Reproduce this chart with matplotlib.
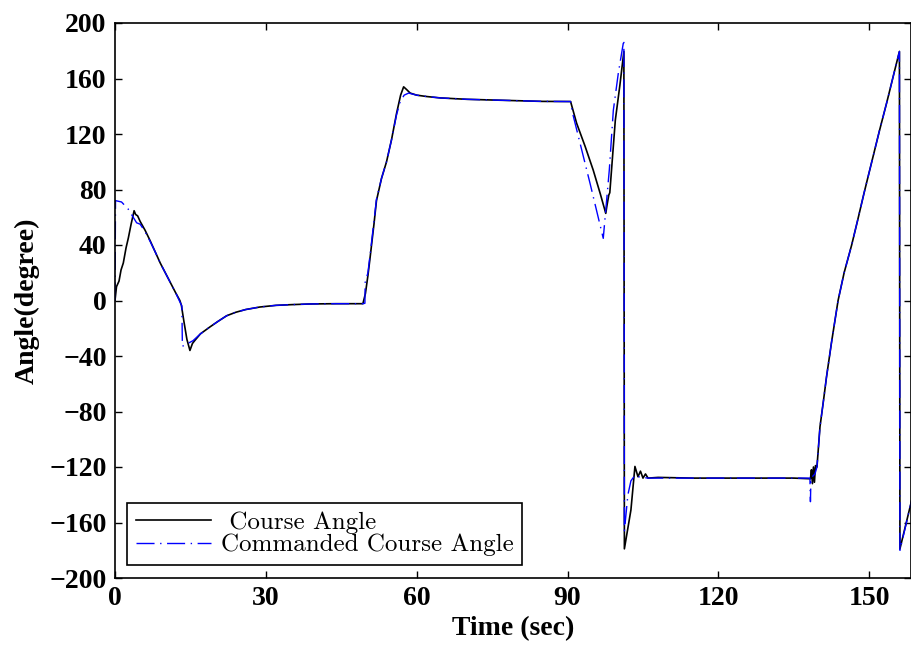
import matplotlib
matplotlib.use("Agg")
import matplotlib.pyplot as plt

# course angle (black)
course_t = [0, 0.3, 0.8, 1.2, 1.65, 2.2, 2.65, 3.2, 3.8, 4.1, 4.5, 5, 6, 7, 8, 9, 10, 11, 12,
            12.9, 13.2, 13.7, 14.3, 14.9, 15.4, 15.9, 17, 18.9, 20.5, 22.2, 24, 26, 28.8, 32,
            35, 38.8, 44, 49.3, 49.8, 50.3, 50.7, 51.5, 52, 53, 54, 55, 56, 56.8, 57.4, 58,
            58.7, 60, 62, 64.7, 70, 75, 80, 85, 90.6, 91.8, 93.5, 95.1, 96.5, 97.6, 97.8,
            98.2, 98.4, 99.5, 100.4, 101.2, 101.3, 102.6, 103.4, 104, 104.5, 105, 105.5, 106,
            108, 115, 125, 135, 138.3, 138.5, 138.7, 138.9, 139.1, 139.3, 139.6, 140.2, 140.9,
            141.5, 142.5, 143.8, 145, 146.5, 147.7, 149, 150.5, 152, 153.5, 155, 156.0,
            156.1, 158.5]
course_deg = [0, 10, 14, 22, 27, 38, 45, 55, 64.7, 62, 61, 57, 50.5, 43, 35, 27, 20, 13, 6,
              0, -3.4, -15, -28, -36, -31, -28.7, -24, -19, -15, -11, -8.5, -6.5, -4.7, -3.5,
              -3, -2.5, -2.3, -2.3, 5, 18, 30, 55, 72, 88, 100, 116, 135, 148, 154, 152,
              149.5, 148, 147, 146, 145, 144.5, 144, 143.5, 143.4, 127.8, 111, 94, 77, 62.8, 67.6,
              76, 77.7, 130, 155, 179.5, -179, -151, -119.6, -127, -123, -128, -125, -128,
              -127.5, -128, -128, -128, -128.5, -122, -132, -120, -131, -119, -120, -91, -72,
              -55, -30, 0, 20, 40, 58, 78, 100, 122, 143, 165, 179.5,
              -179, -143]

# commanded course angle (blue)
cmd_t = [0, 0.1, 1.3, 2.6, 4.3, 5, 6, 7, 8, 9, 10, 11, 12, 12.9, 13.3, 13.4, 15.5, 17, 18.9,
         20.5, 22.2, 24, 26, 28.8, 32, 35, 38.8, 44, 49.3, 49.7, 49.75, 50.3, 50.7, 51.5, 52,
         53, 54, 55, 56, 56.7, 57.5, 58.4, 60, 62, 64.7, 70, 75, 80, 85, 90.6, 91, 94.5,
         97.1, 98.3, 99.1, 100.1, 101.2, 101.3, 102, 102.6, 103.4, 104, 106, 115, 125, 135,
         138.2, 138.3, 138.4, 139.2, 139.6, 140.2, 140.9, 141.5, 142.5, 143.8, 145, 146.5,
         147.7, 149, 150.5, 152, 153.5, 155, 156.0, 156.1, 158.5]
cmd_deg = [0, 72, 71, 66, 56, 55, 49.5, 42.5, 35, 27, 20, 13, 6, -1, -4, -33, -29, -24, -19,
           -15, -11, -8.5, -6.5, -4.7, -3.5, -3, -2.5, -2.3, -2.3, -2, 13, 20, 32, 57, 73,
           88, 100, 116, 134, 143, 148, 149.5, 148, 147, 146, 145, 144.5, 144, 143.5, 143.4, 135, 84,
           44.8, 94, 137, 164, 188, -166, -140, -130, -126, -127, -128, -128, -128, -128,
           -128, -145, -128, -125, -120, -91, -72, -55, -30, 0, 20, 40,
           58, 78, 100, 122, 143, 165, 179.5, -180, -143]

xticks = [0, 30, 60, 90, 120, 150]
yticks = [-200, -160, -120, -80, -40, 0, 40, 80, 120, 160, 200]

fig = plt.figure(figsize=(9.11, 6.5), dpi=100)
ax = fig.add_axes([115/911, 1-578/650, 796/911, 555/650])

ax.plot(course_t, course_deg, color="black", lw=1.2, label=" Course Angle")
ax.plot(cmd_t, cmd_deg, color="blue", lw=1.0, dashes=(13, 4, 1, 4),
        label="Commanded Course Angle")

ax.set_xlim(0, 158.3)
ax.set_ylim(-200, 200)
ax.set_xticks(xticks)
ax.set_yticks(yticks)
ax.tick_params(direction="in", length=5, width=1, top=True, right=True, pad=6)
for lab in ax.get_xticklabels() + ax.get_yticklabels():
    lab.set_fontfamily("Liberation Serif")
    lab.set_fontweight("bold")
    lab.set_fontsize(20)
for s in ax.spines.values():
    s.set_linewidth(1.2)

ax.set_xlabel("Time (sec)", fontfamily="Liberation Serif", fontweight="bold", fontsize=20)
ax.set_ylabel("Angle(degree)", fontfamily="Liberation Serif", fontweight="bold", fontsize=20)
ax.xaxis.set_label_coords(0.5, -0.068)
ax.yaxis.set_label_coords(-0.094, 0.5)

leg = ax.legend(loc="lower left", bbox_to_anchor=(0.015, 0.0234), prop={"family": "cmr10", "size": 18},
                frameon=True, fancybox=False, edgecolor="black", framealpha=1,
                handlelength=3.0, labelspacing=0.0, borderpad=0.35, handletextpad=0.4,
                borderaxespad=0)
leg.get_frame().set_linewidth(1.2)

plt.savefig("out.png", dpi=100)
